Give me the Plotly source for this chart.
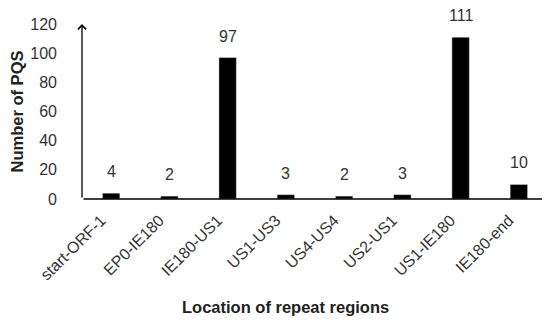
import plotly.graph_objects as go

regions = ["start-ORF-1", "EP0-IE180", "IE180-US1", "US1-US3", "US4-US4", "US2-US1", "US1-IE180", "IE180-end"]
pqs_counts = [4, 2, 97, 3, 2, 3, 111, 10]
y_ticks = [0, 20, 40, 60, 80, 100, 120]

font_main = "Liberation Sans, Arial, sans-serif"

fig = go.Figure(go.Bar(
    x=regions, y=pqs_counts,
    marker_color="black", width=0.3,
    cliponaxis=False,
))

# value labels above bars
for r, v in zip(regions, pqs_counts):
    fig.add_annotation(x=r, y=v, text=str(v), showarrow=False, yanchor="bottom", yshift=11,
                       font=dict(size=16, color="#333333"))

# axis lines drawn as arrows
fig.add_annotation(x=7.5, y=0, ax=-0.5, ay=0, xref="x", yref="y", axref="x", ayref="y",
                   showarrow=True, arrowhead=4, arrowsize=1.2, arrowwidth=1.3, arrowcolor="black", text="")
fig.add_annotation(x=-0.5, y=120, ax=-0.5, ay=0, xref="x", yref="y", axref="x", ayref="y",
                   showarrow=True, arrowhead=4, arrowsize=1.2, arrowwidth=1.3, arrowcolor="black", text="")

# x axis title (sits a bit left of plot centre in the original)
fig.add_annotation(x=(277 - 74) / 466, y=-(310 - 191) / 175, xref="paper", yref="paper",
                   text="<b>Location of repeat regions</b>",
                   showarrow=False, font=dict(size=16.5, color="#222222"))

fig.update_layout(
    width=550, height=323,
    margin=dict(l=74, r=10, t=16, b=132),
    plot_bgcolor="white", paper_bgcolor="white",
    font=dict(family=font_main, size=16, color="#333333"),
    showlegend=False,
    xaxis=dict(range=[-0.5, 7.5], tickangle=-45, showline=False, showgrid=False, ticks="",
               automargin=False, tickfont=dict(size=16), ticklabelstandoff=8, ticklabelshift=-10),
    yaxis=dict(range=[0, 120], tickvals=y_ticks, showline=False, showgrid=False, zeroline=False, ticks="",
               automargin=False, tickfont=dict(size=16), ticklabelstandoff=24,
               title=dict(text="<b>Number of PQS</b>", font=dict(size=16.5, color="#222222"), standoff=5)),
)

fig.write_html("out.html")
